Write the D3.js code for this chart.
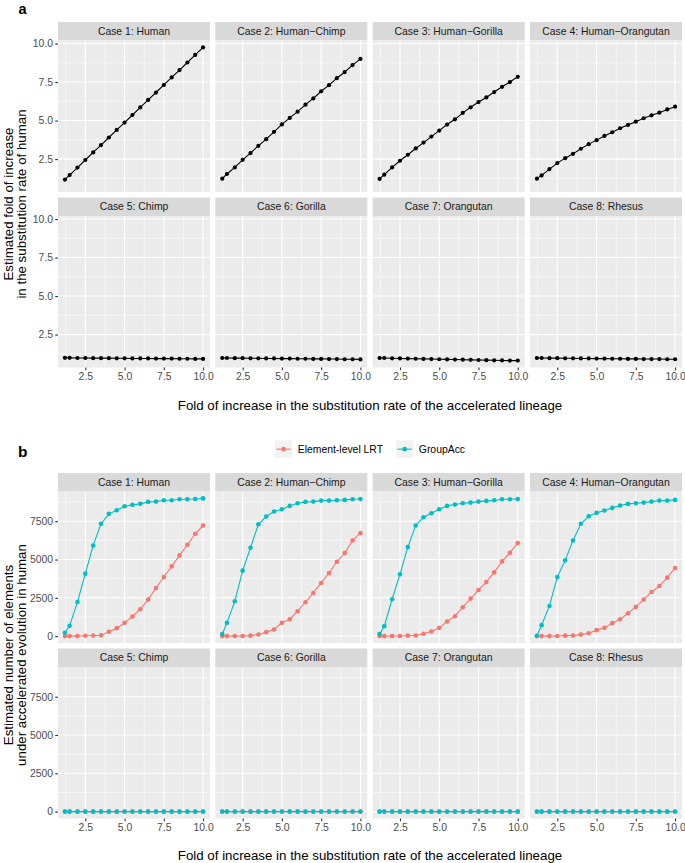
<!DOCTYPE html>
<html>
<head>
<meta charset="utf-8">
<script src="https://cdn.jsdelivr.net/npm/d3@7"></script>
<style>
  body { margin: 0; background: #fff; }
  svg { display: block; font-family: "Liberation Sans", Arial, Helvetica, sans-serif; }
</style>
</head>
<body>
<div id="chart"></div>
<script>
// x values shared by every case
const foldX = [1.2, 1.5, 2, 2.5, 3, 3.5, 4, 4.5, 5, 5.5, 6, 6.5, 7, 7.5, 8, 8.5, 9, 9.5, 10];
const caseNames = ["Case 1: Human", "Case 2: Human\u2212Chimp", "Case 3: Human\u2212Gorilla", "Case 4: Human\u2212Orangutan",
                   "Case 5: Chimp", "Case 6: Gorilla", "Case 7: Orangutan", "Case 8: Rhesus"];
const xTicks = [2.5, 5, 7.5, 10];
const yTicksFold = [2.5, 5, 7.5, 10];
const yTicksCount = [0, 2500, 5000, 7500];

// panel a: estimated fold of increase
const foldCase1 = [1.17, 1.46, 1.95, 2.44, 2.93, 3.41, 3.90, 4.39, 4.87, 5.36, 5.85, 6.34, 6.82, 7.31, 7.80, 8.28, 8.77, 9.26, 9.75];
const foldCase2 = [1.23, 1.53, 1.96, 2.45, 2.89, 3.36, 3.79, 4.27, 4.75, 5.17, 5.58, 6.03, 6.44, 6.90, 7.30, 7.75, 8.15, 8.60, 9.00];
const foldCase3 = [1.21, 1.49, 1.96, 2.39, 2.78, 3.19, 3.57, 3.96, 4.35, 4.74, 5.08, 5.50, 5.86, 6.20, 6.50, 6.85, 7.19, 7.50, 7.84];
const foldCase4 = [1.23, 1.44, 1.85, 2.24, 2.56, 2.84, 3.17, 3.47, 3.73, 4.00, 4.24, 4.50, 4.72, 4.93, 5.15, 5.34, 5.51, 5.72, 5.90];
const foldCase5 = [0.99, 0.99, 0.98, 0.98, 0.97, 0.97, 0.97, 0.96, 0.96, 0.95, 0.95, 0.95, 0.94, 0.94, 0.94, 0.93, 0.93, 0.92, 0.92];
const foldCase6 = [0.98, 0.98, 0.97, 0.97, 0.96, 0.96, 0.95, 0.95, 0.94, 0.94, 0.93, 0.93, 0.92, 0.92, 0.91, 0.91, 0.90, 0.90, 0.89];
const foldCase7 = [0.98, 0.98, 0.96, 0.95, 0.94, 0.93, 0.92, 0.91, 0.90, 0.89, 0.88, 0.87, 0.86, 0.85, 0.84, 0.83, 0.82, 0.81, 0.81];
const foldCase8 = [0.98, 0.98, 0.97, 0.97, 0.96, 0.96, 0.95, 0.95, 0.94, 0.94, 0.93, 0.93, 0.92, 0.92, 0.91, 0.91, 0.91, 0.90, 0.90];

// panel b: number of elements
const seriesNames = ["Element-level LRT", "GroupAcc"];
const seriesColors = ["#F8766D", "#00BFC4"];
const lrtCase1 = [0, 0, 0, 20, 40, 60, 280, 520, 867, 1280, 1756, 2385, 3140, 3860, 4553, 5270, 5965, 6680, 7220];
const lrtCase2 = [0, 0, 10, 10, 30, 105, 260, 433, 867, 1105, 1626, 2210, 2818, 3470, 4118, 4855, 5420, 6244, 6720];
const lrtCase3 = [0, 0, 10, 10, 30, 40, 150, 300, 540, 956, 1300, 1886, 2450, 3012, 3530, 4162, 4878, 5445, 6070];
const lrtCase4 = [0, 0, 0, 10, 30, 40, 100, 185, 390, 540, 845, 1105, 1496, 1908, 2385, 2880, 3270, 3815, 4440];
const lrtCase5 = [0, 0, 0, 0, 0, 0, 0, 0, 0, 0, 0, 0, 0, 0, 0, 0, 0, 0, 0];
const lrtCase6 = [0, 0, 0, 0, 0, 0, 0, 0, 0, 0, 0, 0, 0, 0, 0, 0, 0, 0, 0];
const lrtCase7 = [0, 0, 0, 0, 0, 0, 0, 0, 0, 0, 0, 0, 0, 0, 0, 0, 0, 0, 0];
const lrtCase8 = [0, 0, 0, 0, 0, 0, 0, 0, 0, 0, 0, 0, 0, 0, 0, 0, 0, 0, 0];
const accCase1 = [217, 672, 2231, 4078, 5919, 7330, 7980, 8216, 8476, 8567, 8632, 8762, 8781, 8866, 8866, 8931, 8931, 8953, 8990];
const accCase2 = [130, 867, 2277, 4274, 5770, 7305, 7805, 8130, 8280, 8500, 8672, 8760, 8781, 8846, 8846, 8866, 8890, 8931, 8950];
const accCase3 = [130, 650, 2406, 4033, 5810, 7220, 7760, 8020, 8280, 8500, 8587, 8672, 8716, 8781, 8825, 8866, 8931, 8931, 8950];
const accCase4 = [20, 715, 1970, 3860, 4944, 6244, 7330, 7825, 8046, 8196, 8370, 8520, 8630, 8672, 8716, 8781, 8846, 8846, 8890];
const accCase5 = [0, 0, 0, 0, 0, 0, 0, 0, 0, 0, 0, 0, 0, 0, 0, 0, 0, 0, 0];
const accCase6 = [0, 0, 0, 0, 0, 0, 0, 0, 0, 0, 0, 0, 0, 0, 0, 0, 0, 0, 0];
const accCase7 = [0, 0, 0, 0, 0, 0, 0, 0, 0, 0, 0, 0, 0, 0, 0, 0, 0, 0, 0];
const accCase8 = [0, 0, 0, 0, 0, 0, 0, 0, 0, 0, 0, 0, 0, 0, 0, 0, 0, 0, 0];

const foldByCase = [foldCase1, foldCase2, foldCase3, foldCase4, foldCase5, foldCase6, foldCase7, foldCase8];
const lrtByCase = [lrtCase1, lrtCase2, lrtCase3, lrtCase4, lrtCase5, lrtCase6, lrtCase7, lrtCase8];
const accByCase = [accCase1, accCase2, accCase3, accCase4, accCase5, accCase6, accCase7, accCase8];

// Create SVG Element
var chart_width  = 685;
var chart_height = 863;
var svg = d3.select('#chart')
    .append('svg')
    .attr('width', chart_width)
    .attr('height', chart_height);

var panel_left = 58;
var panel_w    = 152;
var panel_h    = 151.5;
var gap_x      = 5.33;
var strip_h    = 18.5;
var gap_y      = 5.5;
var small_font = 10.4;
var title_font = 13.3;

// ggplot-like 5% expansion of the data range
function expand(ext) {
    var d = (ext[1] - ext[0]) * 0.05;
    return [ext[0] - d, ext[1] + d];
}
function minorBreaks(ticks, domain) {
    var step = ticks[1] - ticks[0];
    var out = [];
    for (var v = ticks[0] - step / 2; v <= domain[1]; v += step) {
        if (v >= domain[0]) out.push(v);
    }
    return out;
}

var x_scale = d3.scaleLinear()
    .domain(expand(d3.extent(foldX)))
    .range([0, panel_w]);

function drawFacets(top, seriesList, yTicks, yFmt, pointR) {
    var allY = [];
    seriesList.forEach(s => s.byCase.forEach(arr => allY = allY.concat(arr)));
    var y_scale = d3.scaleLinear()
        .domain(expand(d3.extent(allY)))
        .range([panel_h, 0]);
    var xMinor = minorBreaks(xTicks, x_scale.domain());
    var yMinor = minorBreaks(yTicks, y_scale.domain());

    caseNames.forEach((name, i) => {
        var col = i % 4, row = Math.floor(i / 4);
        var px = panel_left + col * (panel_w + gap_x);
        var stripTop = top + row * (strip_h + panel_h + gap_y);
        var py = stripTop + strip_h;

        // strip
        svg.append('rect')
            .attr('x', px).attr('y', stripTop)
            .attr('width', panel_w).attr('height', strip_h)
            .attr('fill', '#D9D9D9');
        svg.append('text')
            .attr('x', px + panel_w / 2).attr('y', stripTop + strip_h / 2 + small_font * 0.35)
            .attr('text-anchor', 'middle')
            .attr('font-size', small_font)
            .attr('fill', '#1A1A1A')
            .text(name);

        var g = svg.append('g').attr('transform', 'translate(' + px + ',' + py + ')');
        g.append('rect')
            .attr('width', panel_w).attr('height', panel_h)
            .attr('fill', '#EBEBEB');

        // grid
        g.selectAll('.xminor').data(xMinor).enter().append('line')
            .attr('x1', d => x_scale(d)).attr('x2', d => x_scale(d))
            .attr('y1', 0).attr('y2', panel_h)
            .attr('stroke', '#fff').attr('stroke-width', 0.55);
        g.selectAll('.yminor').data(yMinor).enter().append('line')
            .attr('y1', d => y_scale(d)).attr('y2', d => y_scale(d))
            .attr('x1', 0).attr('x2', panel_w)
            .attr('stroke', '#fff').attr('stroke-width', 0.55);
        g.selectAll('.xmajor').data(xTicks).enter().append('line')
            .attr('x1', d => x_scale(d)).attr('x2', d => x_scale(d))
            .attr('y1', 0).attr('y2', panel_h)
            .attr('stroke', '#fff').attr('stroke-width', 1.1);
        g.selectAll('.ymajor').data(yTicks).enter().append('line')
            .attr('y1', d => y_scale(d)).attr('y2', d => y_scale(d))
            .attr('x1', 0).attr('x2', panel_w)
            .attr('stroke', '#fff').attr('stroke-width', 1.1);

        // series
        seriesList.forEach(s => {
            var vals = s.byCase[i];
            var pts = foldX.map((x, j) => [x, vals[j]]);
            g.append('path')
                .datum(pts)
                .attr('fill', 'none')
                .attr('stroke', s.color)
                .attr('stroke-width', 1.1)
                .attr('d', d3.line().x(d => x_scale(d[0])).y(d => y_scale(d[1])));
            g.selectAll(null).data(pts).enter().append('circle')
                .attr('cx', d => x_scale(d[0]))
                .attr('cy', d => y_scale(d[1]))
                .attr('r', pointR)
                .attr('fill', s.color);
        });

        // y axis on the left column
        if (col === 0) {
            var ya = svg.append('g')
                .attr('transform', 'translate(' + px + ',' + py + ')')
                .call(d3.axisLeft(y_scale).tickValues(yTicks).tickFormat(yFmt).tickSize(2.75).tickPadding(2.2));
            ya.select('.domain').remove();
            ya.selectAll('line').attr('stroke', '#333333').attr('stroke-width', 1.1);
            ya.selectAll('text').attr('fill', '#4D4D4D').attr('font-size', small_font)
                .attr('font-family', null);
        }
        // x axis on the bottom row
        if (row === 1) {
            var xa = svg.append('g')
                .attr('transform', 'translate(' + px + ',' + (py + panel_h) + ')')
                .call(d3.axisBottom(x_scale).tickValues(xTicks).tickFormat(d3.format('.1f')).tickSize(2.75).tickPadding(2.2));
            xa.select('.domain').remove();
            xa.selectAll('line').attr('stroke', '#333333').attr('stroke-width', 1.1);
            xa.selectAll('text').attr('fill', '#4D4D4D').attr('font-size', small_font)
                .attr('font-family', null);
        }
    });

    var bottom = top + 2 * (strip_h + panel_h) + gap_y;
    return {bottom: bottom, mid: (top + strip_h + bottom) / 2};
}

function axisTitles(block, lines, xTitleY) {
    var yt = svg.append('text')
        .attr('transform', 'translate(12.5,' + block.mid + ') rotate(-90)')
        .attr('text-anchor', 'middle')
        .attr('font-size', title_font)
        .attr('fill', '#000');
    yt.append('tspan').attr('x', 0).attr('dy', 0).text(lines[0]);
    yt.append('tspan').attr('x', 0).attr('dy', 13.6).text(lines[1]);

    svg.append('text')
        .attr('x', panel_left + (4 * panel_w + 3 * gap_x) / 2)
        .attr('y', xTitleY)
        .attr('text-anchor', 'middle')
        .attr('font-size', title_font)
        .attr('fill', '#000')
        .text('Fold of increase in the substitution rate of the accelerated lineage');
}

// Panel a
svg.append('text').attr('x', 18.5).attr('y', 14).attr('font-size', 14.5).attr('font-weight', 'bold').text('a');
var blockA = drawFacets(22, [{byCase: foldByCase, color: '#000'}], yTicksFold, d3.format('.1f'), 2.1);
axisTitles(blockA, ['Estimated fold of increase', 'in the substitution rate of human'], 409.5);

// Panel b
svg.append('text').attr('x', 18).attr('y', 456.5).attr('font-size', 15.5).attr('font-weight', 'bold').text('b');
var blockB = drawFacets(473, [
    {byCase: lrtByCase, color: seriesColors[0]},
    {byCase: accByCase, color: seriesColors[1]}
], yTicksCount, d3.format('d'), 2.3);
axisTitles(blockB, ['Estimated number of elements', 'under accelerated evolution in human'], 859.5);

// Legend
var legend = svg.append('g');
var key = 17.3, lx = 0;
seriesNames.forEach((name, i) => {
    var item = legend.append('g').attr('transform', 'translate(' + lx + ',0)');
    item.append('rect').attr('width', key).attr('height', key).attr('fill', '#F2F2F2');
    item.append('line').attr('x1', 1.5).attr('x2', key - 1.5).attr('y1', key / 2).attr('y2', key / 2)
        .attr('stroke', seriesColors[i]).attr('stroke-width', 1.1);
    item.append('circle').attr('cx', key / 2).attr('cy', key / 2).attr('r', 2.3).attr('fill', seriesColors[i]);
    var t = item.append('text').attr('x', key + 5.5).attr('y', key / 2 + small_font * 0.35)
        .attr('font-size', small_font).attr('fill', '#000').text(name);
    lx += key + 5.5 + t.node().getComputedTextLength() + 13;
});
var legendW = lx - 13;
legend.attr('transform', 'translate(' + (panel_left + (4 * panel_w + 3 * gap_x) / 2 - legendW / 2) + ',440.5)');
</script>
</body>
</html>
